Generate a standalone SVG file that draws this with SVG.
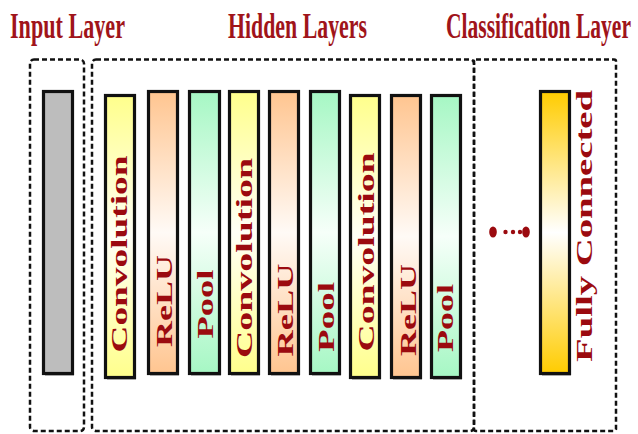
<svg xmlns="http://www.w3.org/2000/svg" width="638" height="434" viewBox="0 0 638 434">
<defs>
<linearGradient id="gY" x1="0" y1="0" x2="0" y2="1">
<stop offset="0" stop-color="#FFFF8C"/><stop offset="0.5" stop-color="#FFFFF6"/><stop offset="1" stop-color="#FFFF8C"/>
</linearGradient>
<linearGradient id="gO" x1="0" y1="0" x2="0" y2="1">
<stop offset="0" stop-color="#FFC590"/><stop offset="0.5" stop-color="#FFFAF6"/><stop offset="1" stop-color="#FFC590"/>
</linearGradient>
<linearGradient id="gG" x1="0" y1="0" x2="0" y2="1">
<stop offset="0" stop-color="#A6F7C4"/><stop offset="0.5" stop-color="#F6FFF9"/><stop offset="1" stop-color="#A6F7C4"/>
</linearGradient>
<linearGradient id="gF" x1="0" y1="0" x2="0" y2="1">
<stop offset="0" stop-color="#FFCC00"/><stop offset="0.5" stop-color="#FFFFFF"/><stop offset="1" stop-color="#FFCC00"/>
</linearGradient>
</defs>
<style>
.title{font-family:"Liberation Serif","Times New Roman",serif;font-weight:bold;font-size:22px;fill:#A0141A}
.lbl{font-family:"Liberation Serif","Times New Roman",serif;font-weight:bold;font-size:23px;fill:#9B0A0F}
.box{fill:none;stroke:#111;stroke-width:2.5;stroke-dasharray:5 3}
.bar{stroke:#111;stroke-width:3.2}
.sh{fill:#666;opacity:0.45}
</style>
<rect width="638" height="434" fill="#FFFFFF"/>
<g id="titles">
<text class="title" transform="translate(10,38) scale(1,1.58)" textLength="115" lengthAdjust="spacingAndGlyphs">Input Layer</text>
<text class="title" transform="translate(228,38) scale(1,1.58)" textLength="139" lengthAdjust="spacingAndGlyphs">Hidden Layers</text>
<text class="title" transform="translate(446,38) scale(1,1.58)" textLength="185" lengthAdjust="spacingAndGlyphs">Classification Layer</text>
</g>
<g id="frames">
<rect class="box" x="30" y="59.5" width="54" height="371.5" rx="4"/>
<rect class="box" x="92" y="59.5" width="382" height="371.5" rx="4"/>
<rect class="box" x="474" y="59.5" width="142" height="371.5" rx="2"/>
</g>
<g id="input">
<rect class="sh" x="45" y="93" width="29" height="283"/>
<rect class="bar" x="43.5" y="91.5" width="29" height="282" fill="#BDBDBD"/>
</g>
<g id="conv1">
<rect class="sh" x="107" y="97" width="29" height="283"/>
<rect class="bar" x="105.5" y="95.5" width="29" height="282" fill="url(#gY)"/>
<text class="lbl" transform="translate(127,254) rotate(-90)" text-anchor="middle" textLength="197" lengthAdjust="spacingAndGlyphs">Convolution</text>
</g>
<g id="relu1">
<rect class="sh" x="150" y="93" width="29" height="283"/>
<rect class="bar" x="148.5" y="91.5" width="29" height="282" fill="url(#gO)"/>
<text class="lbl" transform="translate(172,301) rotate(-90)" text-anchor="middle" textLength="92" lengthAdjust="spacingAndGlyphs">ReLU</text>
</g>
<g id="pool1">
<rect class="sh" x="191" y="93" width="30" height="283"/>
<rect class="bar" x="189.5" y="91.5" width="30" height="282" fill="url(#gG)"/>
<text class="lbl" transform="translate(213,304) rotate(-90)" text-anchor="middle" textLength="69" lengthAdjust="spacingAndGlyphs">Pool</text>
</g>
<g id="conv2">
<rect class="sh" x="231" y="93" width="29" height="283"/>
<rect class="bar" x="229.5" y="91.5" width="29" height="282" fill="url(#gY)"/>
<text class="lbl" transform="translate(252,258) rotate(-90)" text-anchor="middle" textLength="200" lengthAdjust="spacingAndGlyphs">Convolution</text>
</g>
<g id="relu2">
<rect class="sh" x="271" y="93" width="29" height="283"/>
<rect class="bar" x="269.5" y="91.5" width="29" height="282" fill="url(#gO)"/>
<text class="lbl" transform="translate(293,310) rotate(-90)" text-anchor="middle" textLength="93" lengthAdjust="spacingAndGlyphs">ReLU</text>
</g>
<g id="pool2">
<rect class="sh" x="312" y="93" width="29" height="283"/>
<rect class="bar" x="310.5" y="91.5" width="29" height="282" fill="url(#gG)"/>
<text class="lbl" transform="translate(334,317) rotate(-90)" text-anchor="middle" textLength="70" lengthAdjust="spacingAndGlyphs">Pool</text>
</g>
<g id="conv3">
<rect class="sh" x="352" y="97" width="29" height="283"/>
<rect class="bar" x="350.5" y="95.5" width="29" height="282" fill="url(#gY)"/>
<text class="lbl" transform="translate(374,252) rotate(-90)" text-anchor="middle" textLength="199" lengthAdjust="spacingAndGlyphs">Convolution</text>
</g>
<g id="relu3">
<rect class="sh" x="393" y="97" width="29" height="283"/>
<rect class="bar" x="391.5" y="95.5" width="29" height="282" fill="url(#gO)"/>
<text class="lbl" transform="translate(416,310) rotate(-90)" text-anchor="middle" textLength="92" lengthAdjust="spacingAndGlyphs">ReLU</text>
</g>
<g id="pool3">
<rect class="sh" x="433" y="97" width="29" height="283"/>
<rect class="bar" x="431.5" y="95.5" width="29" height="282" fill="url(#gG)"/>
<text class="lbl" transform="translate(453,318) rotate(-90)" text-anchor="middle" textLength="68" lengthAdjust="spacingAndGlyphs">Pool</text>
</g>
<g id="fc">
<rect class="sh" x="542" y="93" width="29" height="283"/>
<rect class="bar" x="540.5" y="91.5" width="29" height="282" fill="url(#gF)"/>
<text class="lbl" transform="translate(592,226) rotate(-90)" text-anchor="middle" textLength="272" lengthAdjust="spacingAndGlyphs">Fully Connected</text>
</g>
<g id="connectors" fill="#9B0A0F">
<ellipse cx="493" cy="232" rx="3.8" ry="5.5"/>
<circle cx="505.5" cy="232" r="2.2"/>
<circle cx="513" cy="232" r="2.2"/>
<circle cx="520" cy="232" r="2.2"/>
<ellipse cx="526" cy="232" rx="3.8" ry="5.5"/>
</g>
</svg>
